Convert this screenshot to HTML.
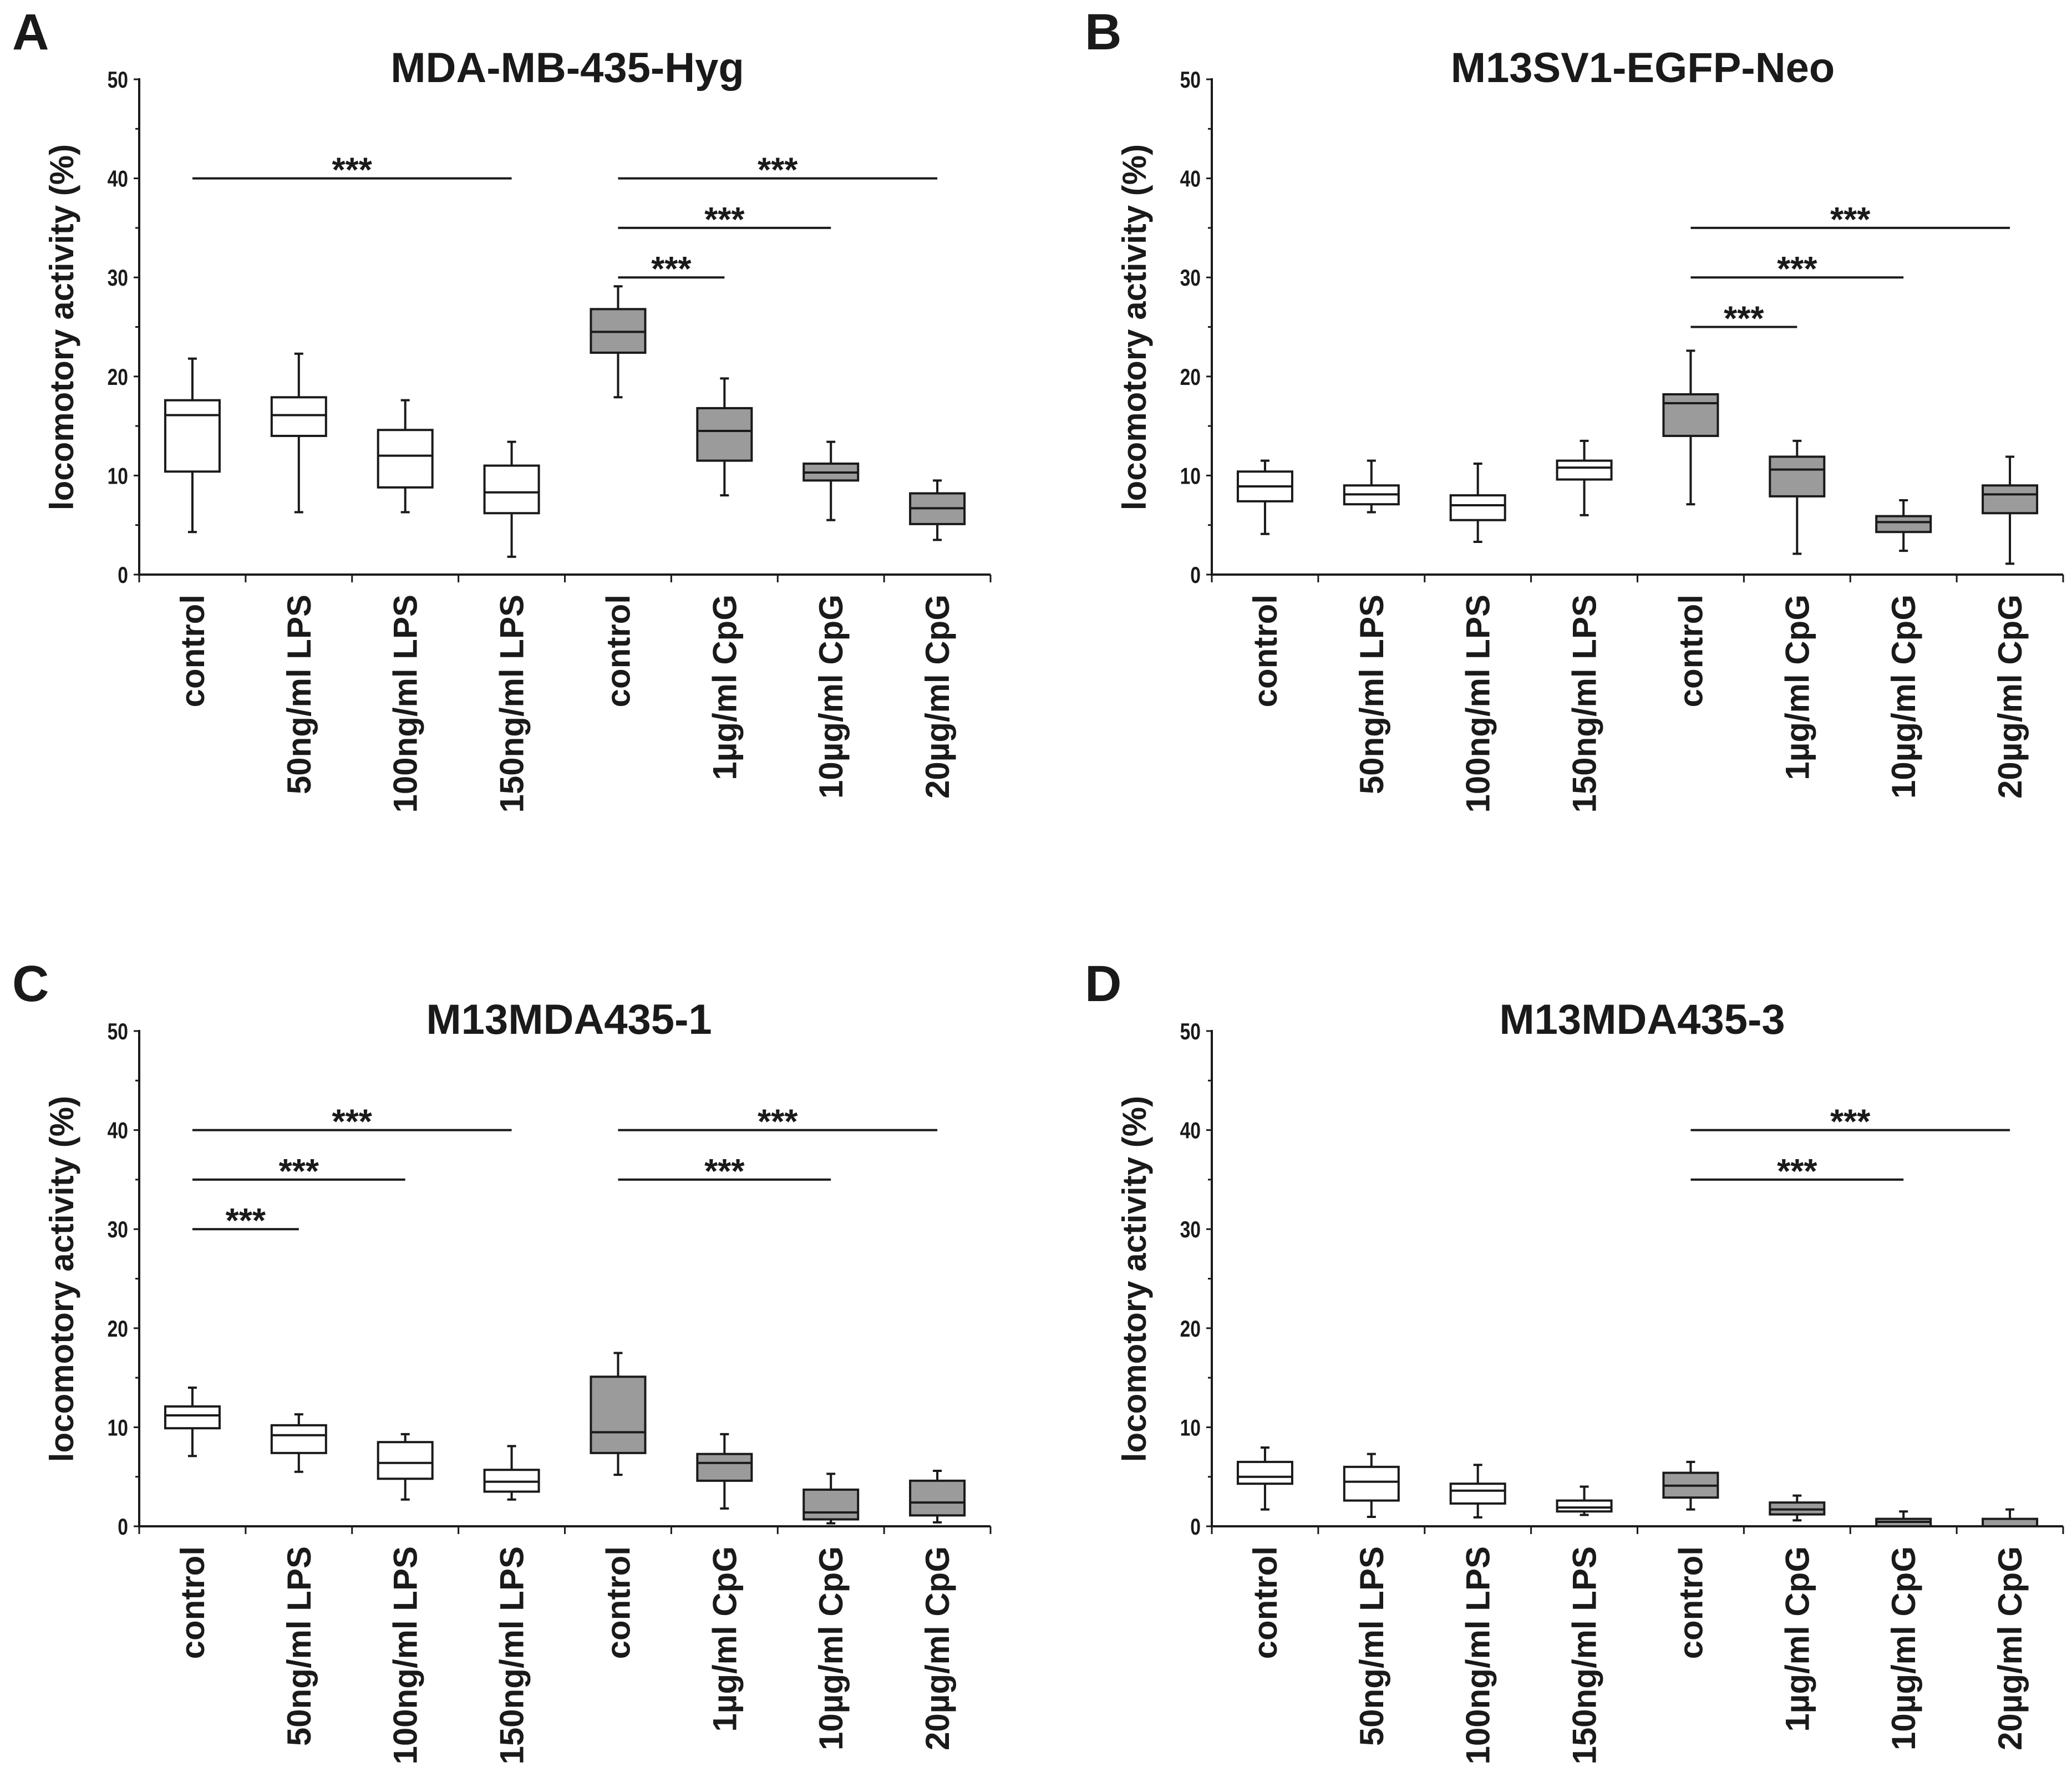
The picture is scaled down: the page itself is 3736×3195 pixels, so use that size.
<!DOCTYPE html>
<html><head><meta charset="utf-8"><style>
html,body{margin:0;padding:0;background:#fff;}
svg{display:block;}
text{font-family:"Liberation Sans",Arial,sans-serif;font-weight:bold;fill:#1a1a1a;}
</style></head>
<body>
<svg id="fig" width="3736" height="3195" viewBox="0 0 3736 3195" xmlns="http://www.w3.org/2000/svg"></svg>
<script>
const categories = ["control","50ng/ml LPS","100ng/ml LPS","150ng/ml LPS","control","1µg/ml CpG","10µg/ml CpG","20µg/ml CpG"];
const yTicks = [0,10,20,30,40,50];
const panelLetters = ["A","B","C","D"];
const panelTitles = ["MDA-MB-435-Hyg","M13SV1-EGFP-Neo","M13MDA435-1","M13MDA435-3"];
// [whiskerLow, q1, median, q3, whiskerHigh]
const boxesA = [[4.3,10.4,16.1,17.6,21.8],[6.3,14.0,16.1,17.9,22.3],[6.3,8.8,12.0,14.6,17.6],[1.8,6.2,8.3,11.0,13.4],[17.9,22.4,24.5,26.8,29.1],[8.0,11.5,14.5,16.8,19.8],[5.5,9.5,10.3,11.2,13.4],[3.5,5.1,6.7,8.2,9.5]];
const boxesB = [[4.1,7.4,8.9,10.4,11.5],[6.3,7.1,8.1,9.0,11.5],[3.3,5.5,7.0,8.0,11.2],[6.0,9.6,10.8,11.5,13.5],[7.1,14.0,17.3,18.2,22.6],[2.1,7.9,10.6,11.9,13.5],[2.4,4.3,5.3,5.9,7.5],[1.1,6.2,8.1,9.0,11.9]];
const boxesC = [[7.1,9.9,11.2,12.1,14.0],[5.5,7.4,9.2,10.2,11.3],[2.7,4.8,6.4,8.5,9.3],[2.7,3.5,4.5,5.7,8.1],[5.2,7.4,9.5,15.1,17.5],[1.8,4.6,6.4,7.3,9.3],[0.3,0.7,1.4,3.7,5.3],[0.4,1.1,2.4,4.6,5.6]];
const boxesD = [[1.7,4.3,5.0,6.5,7.95],[0.95,2.6,4.5,6.0,7.3],[0.9,2.3,3.6,4.3,6.2],[1.15,1.5,1.9,2.6,4.0],[1.7,2.9,4.1,5.4,6.5],[0.6,1.2,1.7,2.4,3.1],[0,0,0.45,0.75,1.5],[0,0,0,0.75,1.7]];
// [fromIndex, toIndex, yValue]
const sigA = [[0,3,40],[4,7,40],[4,6,35],[4,5,30]];
const sigB = [[4,7,35],[4,6,30],[4,5,25]];
const sigC = [[0,3,40],[0,2,35],[0,1,30],[4,7,40],[4,6,35]];
const sigD = [[4,7,40],[4,6,35]];
const allBoxes = [boxesA,boxesB,boxesC,boxesD];
const allSig = [sigA,sigB,sigC,sigD];

const NS="http://www.w3.org/2000/svg";
const svg=document.getElementById('fig');
function mk(tag,attrs,parent,txt){const e=document.createElementNS(NS,tag);for(const k in attrs)e.setAttribute(k,attrs[k]);if(txt!==undefined)e.textContent=txt;parent.appendChild(e);return e;}

const offsets=[[0,0],[1934,0],[0,1716],[1934,1716]];
const AX=251, Y0=1036, Y50=143, XEND=1786;
const titleCx=[1023,2962,1026,2961];
offsets.forEach((off,p)=>{
  const ox=off[0], oy=off[1];
  const g=mk('g',{transform:`translate(${ox},${oy})`},svg);
  
  
  const yS=v=>Y0-(v/50)*(Y0-Y50);
  const step=(XEND-AX)/categories.length;
  const xS=i=>AX+step*(i+0.5);
  let t=mk('text',{x:22,y:89,'font-size':92},g,panelLetters[p]);
  
  
  t=mk('text',{x:titleCx[p]-ox,y:148,'font-size':76,'text-anchor':'middle'},g,panelTitles[p]);
  
  
  let a=mk('line',{x1:AX,y1:Y50-2,x2:AX,y2:Y0+2,stroke:'#1a1a1a','stroke-width':4},g);
  
  
  a=mk('line',{x1:AX-2,y1:Y0,x2:XEND,y2:Y0,stroke:'#1a1a1a','stroke-width':4},g);
  
  
  for(let v=0;v<=50;v+=5){
    const major=v%10===0;
    mk('line',{x1:AX-(major?10:7),y1:yS(v),x2:AX,y2:yS(v),stroke:'#1a1a1a','stroke-width':3},g);
  }
  yTicks.forEach(v=>{
    const tl=mk('text',{transform:`translate(${AX-20},${yS(v)+15}) scale(0.8,1)`,'font-size':42,'text-anchor':'end'},g,String(v));
    
    
  });
  for(let i=0;i<=categories.length;i++){
    mk('line',{x1:AX+step*i,y1:Y0,x2:AX+step*i,y2:Y0+14,stroke:'#1a1a1a','stroke-width':3},g);
  }
  t=mk('text',{transform:`translate(132,590) rotate(-90)`,'font-size':60,'text-anchor':'middle'},g,'locomotory activity (%)');
  
  
  categories.forEach((c,i)=>{
    const xl=mk('text',{transform:`translate(${xS(i)+21},${Y0+36}) rotate(-90)`,'font-size':60,'text-anchor':'end'},g,c);
    
    
  });
  const bw=98;
  allBoxes[p].forEach((b,i)=>{
    const cx=xS(i);
    const bg=mk('g',{},g);
    
    
    const fill=i<4?'#ffffff':'#9b9b9b';
    mk('line',{x1:cx,y1:yS(b[0]),x2:cx,y2:yS(b[4]),stroke:'#1a1a1a','stroke-width':4},bg);
    mk('line',{x1:cx-8,y1:yS(b[0]),x2:cx+8,y2:yS(b[0]),stroke:'#1a1a1a','stroke-width':4},bg);
    mk('line',{x1:cx-8,y1:yS(b[4]),x2:cx+8,y2:yS(b[4]),stroke:'#1a1a1a','stroke-width':4},bg);
    mk('rect',{x:cx-bw/2,y:yS(b[3]),width:bw,height:Math.max(yS(b[1])-yS(b[3]),0.5),fill:fill,stroke:'#1a1a1a','stroke-width':4},bg);
    mk('line',{x1:cx-bw/2,y1:yS(b[2]),x2:cx+bw/2,y2:yS(b[2]),stroke:'#1a1a1a','stroke-width':4},bg);
  });
  allSig[p].forEach(s=>{
    const sg=mk('g',{},g);
    
    
    const x1=xS(s[0]),x2=xS(s[1]),y=yS(s[2]);
    mk('line',{x1:x1,y1:y,x2:x2,y2:y,stroke:'#1a1a1a','stroke-width':4},sg);
    mk('text',{x:(x1+x2)/2,y:y+6,'font-size':62,'text-anchor':'middle'},sg,'***');
  });
});
</script>
</body></html>
